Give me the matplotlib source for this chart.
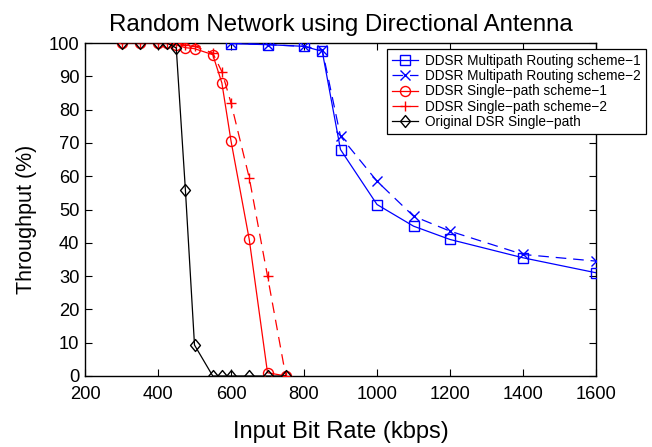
import matplotlib
matplotlib.use("Agg")
import matplotlib.pyplot as plt
from matplotlib.path import Path

plt.rcParams['font.family'] = ['Liberation Sans', 'DejaVu Sans']

x_multi = [600, 700, 800, 850, 900, 1000, 1100, 1200, 1400, 1600]
multi_s1 = [99.8, 99.5, 99, 97.5, 68, 51.5, 45, 41, 35.5, 31]
multi_s2 = [100, 99.5, 99, 98, 72, 58.5, 48, 43.5, 36.5, 34.5]

x_single = [300, 350, 400, 425, 450, 475, 500, 550, 575, 600, 650, 700, 750]
single_s1 = [100, 100, 100, 100, 99.4, 98.6, 98.3, 96.5, 88, 70.6, 41, 1, 0]
single_s2 = [100, 100, 100, 100, 100, 99.5, 99, 97, 91.4, 82, 59.5, 30, 0]

x_dsr = [300, 350, 400, 425, 450, 475, 500, 550, 575, 600, 650, 700, 750]
dsr = [100, 100, 100, 100, 98.5, 56, 9.3, 0, 0, 0, 0, 0, 0]

x_ticks = [200, 400, 600, 800, 1000, 1200, 1400, 1600]
y_ticks = [0, 10, 20, 30, 40, 50, 60, 70, 80, 90, 100]

diamond = Path([(0, -1), (0.83, 0), (0, 1), (-0.83, 0), (0, -1)],
               [Path.MOVETO, Path.LINETO, Path.LINETO, Path.LINETO, Path.CLOSEPOLY])

fig = plt.figure(figsize=(6.52, 4.47), dpi=100)
ax = fig.add_axes([85/652, 1 - 376/447, (596-85)/652, (376-43)/447])

lw = 0.9
dash = (8.5, 5.5)
ax.plot(x_multi, multi_s1, '-', color='blue', marker='s', mfc='none', ms=6.5, mew=1.0, lw=lw,
        label='DDSR Multipath Routing scheme\u22121')
ax.plot(x_multi, multi_s2, '--', color='blue', marker='x', ms=6.5, mew=1.0, lw=lw, dashes=dash,
        label='DDSR Multipath Routing scheme\u22122')
ax.plot(x_single, single_s1, '-', color='red', marker='o', mfc='none', ms=7.2, mew=1.0, lw=lw,
        label='DDSR Single\u2212path scheme\u22121')
ax.plot(x_single, single_s2, '--', color='red', marker='+', ms=7.5, mew=1.0, lw=lw, dashes=dash,
        label='DDSR Single\u2212path scheme\u22122')
ax.plot(x_dsr, dsr, '-', color='black', marker=diamond, mfc='none', ms=8.6, mew=1.0, lw=lw,
        label='Original DSR Single\u2212path')

ax.set_xlim(200, 1600)
ax.set_ylim(0, 100)
ax.set_xticks(x_ticks)
ax.set_yticks(y_ticks)
ax.tick_params(direction='in', top=True, right=True, labelsize=13.2, length=5)
ax.tick_params(axis='x', pad=7)
ax.tick_params(axis='y', pad=4)
for s in ax.spines.values():
    s.set_linewidth(1.0)
    s.set_zorder(0.5)

ax.set_title('Random Network using Directional Antenna', fontsize=17.3, pad=9)
ax.set_xlabel('Input Bit Rate (kbps)', fontsize=17, labelpad=13)
ax.set_ylabel('Throughput (%)', fontsize=15.5)
ax.yaxis.set_label_coords(-0.093, 0.47)

leg = ax.legend(loc='upper left', bbox_to_anchor=(387/652, 1 - 49/447),
                bbox_transform=fig.transFigure, fontsize=9.8, frameon=True,
                fancybox=False, edgecolor='black', framealpha=1, borderpad=0.35,
                labelspacing=0.1, handlelength=1.9, handletextpad=0.55, borderaxespad=0)
leg.get_frame().set_linewidth(0.9)

fig.savefig('out.png', dpi=100)
